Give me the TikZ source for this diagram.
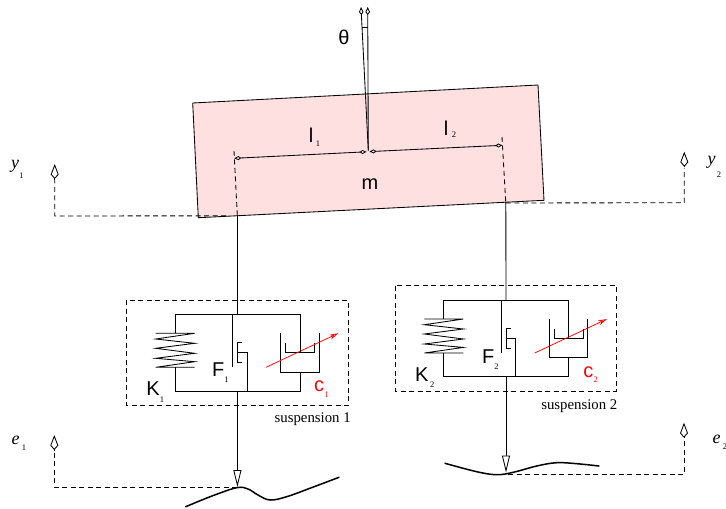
\documentclass[tikz,border=0pt]{standalone}
\usepackage{fontspec}
\setmainfont{Liberation Serif}
\newfontfamily\labelfont{Liberation Sans}
\usetikzlibrary{arrows.meta}
\definecolor{bodypink}{RGB}{255,224,224}
\tikzset{
  ln/.style={line width=0.85pt,black},
  dsh/.style={line width=0.85pt,black,dash pattern=on 5pt off 3.5pt},
  road/.style={line width=1.5pt,black,line cap=round},
  kitetip/.style={-{Kite[open,length=15pt,width=8pt,inset=4.5pt,fill=white]}},
  smalltip/.style={{Kite[open,length=7pt,width=4pt,inset=3pt,fill=white]}-{Kite[open,length=7pt,width=4pt,inset=3pt,fill=white]}},
  toptip/.style={-{Kite[open,length=8pt,width=4.6pt,inset=3pt,fill=white]}},
  triangletip/.style={-{Triangle[open,length=17pt,width=8pt,fill=white]}},
  big/.style={inner sep=0pt,font=\labelfont\fontsize{20}{20}\selectfont},
  sub/.style={inner sep=0pt,font=\fontsize{8.5}{9}\selectfont},
  ital/.style={inner sep=0pt,font=\itshape\fontsize{18}{18}\selectfont},
  captext/.style={inner sep=0pt,font=\fontsize{14.8}{15}\selectfont},
}
% Suspension: #1 = shift of the drawing
\newcommand{\suspension}[1]{%
  \begin{scope}[shift={(#1)}]
    \coordinate (TL) at (175,314.3); \coordinate (TR) at (300,314.3);
    \coordinate (BL) at (175,391);   \coordinate (BR) at (300,391);
    \draw[ln] (175,333.3) -- (TL) -- (TR) -- (300,352.3);
    \draw[ln] (175,367.3) -- (BL) -- (BR) -- (300,372);
    \draw[ln] (155.7,333.3) -- (194.7,333.3) -- (155.7,339) -- (194.7,343.3)
      -- (155.7,348.3) -- (194.7,353.3) -- (155.7,358.3) -- (194.7,361.7)
      -- (155.7,367.3) -- (194.7,367.3);
    \draw[ln] (232.3,314.3) -- (232.3,367.3);
    \draw[ln] (242.3,342.7) -- (237.3,342.7) -- (237.3,362.3) -- (242.3,362.3);
    \draw[ln] (237.3,352.3) -- (247,352.3) -- (247,391);
    \draw[ln] (285.7,343.3) -- (285.7,352.3) -- (314.3,352.3) -- (314.3,343.3);
    \draw[ln] (280.3,333.3) -- (280.3,372) -- (319,372) -- (319,333.3);
    \draw[red,line width=0.75pt,-{Stealth[length=9pt,width=5pt,inset=3pt,open]}] (266,367.3) -- (338.3,333.3);
  \end{scope}}
\begin{document}
\begin{tikzpicture}[x=1pt,y=-1pt]
\useasboundingbox (0,0) rectangle (726,509);
% car body
\filldraw[ln,fill=bodypink] (192.7,103) -- (538,85) -- (544,200.3) -- (198.3,217.7) -- cycle;
\coordinate (lend) at (234.3,158.3);
\coordinate (rend) at (502.3,145.3);
\coordinate (ctr)  at (368.3,150.7);
\coordinate (ctrL) at (366.5,151.8);
\coordinate (ctrR) at (369.5,151.6);
\draw[ln,smalltip] (ctrL) -- (lend);
\draw[ln,smalltip] (ctrR) -- (rend);
\coordinate (up1) at (361,7);
\coordinate (up2) at (367.7,7);
\draw[ln,toptip] (ctr) -- (up1);
\draw[ln,toptip] (ctr) -- (up2);
\draw[ln] (361.7,27.7) -- (367.7,27.7);
% dashed verticals on the body
\draw[dsh] (234,151) -- (237.3,215);
\draw[dsh] (502,137) -- (505.7,201.5);
% struts
\coordinate (s1top) at (237.4,215.2);
\coordinate (s2top) at (505.8,201.7);
\coordinate (s1a) at (237.4,314.3);
\coordinate (s1b) at (237.4,391);
\coordinate (s1c) at (237.4,487);
\coordinate (s2a) at (506,300);
\coordinate (s2b) at (506,376.7);
\coordinate (s2c) at (506,472.5);
\draw[ln] (s1top) -- (s1a);
\draw[ln] (s2top) -- (s2a);
\draw[ln,triangletip] (s1b) -- (s1c);
\draw[ln,triangletip] (s2b) -- (s2c);
% suspensions
\suspension{0,0}
\suspension{268.7,-14.3}
\draw[dsh] (126.7,300) rectangle (348,405.7);
\draw[dsh] (395.7,285.7) rectangle (616.7,391);
% roads
\draw[road] plot[smooth,tension=0.6] coordinates {(185.7,506.7) (212,496) (236.7,487.7) (248,489) (258,495) (270,500) (286.7,496.7) (312,487.5) (339,477.3)};
\draw[road] plot[smooth,tension=0.6] coordinates {(445,463.3) (476.7,471.7) (496.7,474.7) (513.3,472.3) (536.7,466) (556.7,462.7) (576.7,463.7) (599,466)};
% measure lines
\coordinate (y1t) at (54.7,164); \coordinate (y1c) at (54.7,216);
\coordinate (y2t) at (684.3,151.7); \coordinate (y2c) at (684.3,202.7);
\coordinate (e1t) at (54.3,435); \coordinate (e1c) at (54.3,487.3);
\coordinate (e2t) at (684,422.7); \coordinate (e2c) at (684,474);
\draw[dsh] (226,215.8) -- (y1c) -- (54.7,180);
\draw[dsh] (505.8,203) -- (y2c) -- (684.3,168);
\draw[dsh] (237,487.3) -- (e1c) -- (54.3,451.5);
\draw[dsh] (508,474) -- (e2c) -- (684,438);
\draw[ln,kitetip] (54.7,179.5) -- (y1t);
\draw[ln,kitetip] (684.3,167) -- (y2t);
\draw[ln,kitetip] (54.3,450.5) -- (e1t);
\draw[ln,kitetip] (684,438) -- (e2t);
% labels
\node[big] (theta) at (344,37.7) {θ};
\node[big] (l1) at (311,135) {l};
\node[sub] (l1s) at (318,143.5) {1};
\node[big] (l2) at (446,128) {l};
\node[sub] (l2s) at (454,135) {2};
\node[big] (m) at (370,184) {m};
\node[ital] (y1) at (15,166) {y};
\node[sub] (y1s) at (21.5,176) {1};
\node[ital] (y2) at (711.7,162) {y};
\node[sub] (y2s) at (719,175) {2};
\node[ital] (e1) at (15.7,440) {e};
\node[sub] (e1s) at (24,447.7) {1};
\node[ital] (e2) at (716.7,439.3) {e};
\node[sub] (e2s) at (725,447) {2};
\node[big] (K1) at (153,389) {K};
\node[sub] (K1s) at (162,400) {1};
\node[big] (F1) at (218.3,370) {F};
\node[sub] (F1s) at (226.5,380) {1};
\node[big,red] (c1) at (319,386) {c};
\node[sub,red] (c1s) at (326.7,395) {1};
\node[big] (K2) at (421.7,375) {K};
\node[sub] (K2s) at (432.3,385) {2};
\node[big] (F2) at (488.3,356.7) {F};
\node[sub] (F2s) at (496.5,366.5) {2};
\node[big,red] (c2) at (588.3,372.3) {c};
\node[sub,red] (c2s) at (595.7,379.5) {2};
\node[captext] (s1) at (312.7,419) {suspension 1};
\node[captext] (s2) at (579.3,405.7) {suspension 2};
\end{tikzpicture}
\end{document}
